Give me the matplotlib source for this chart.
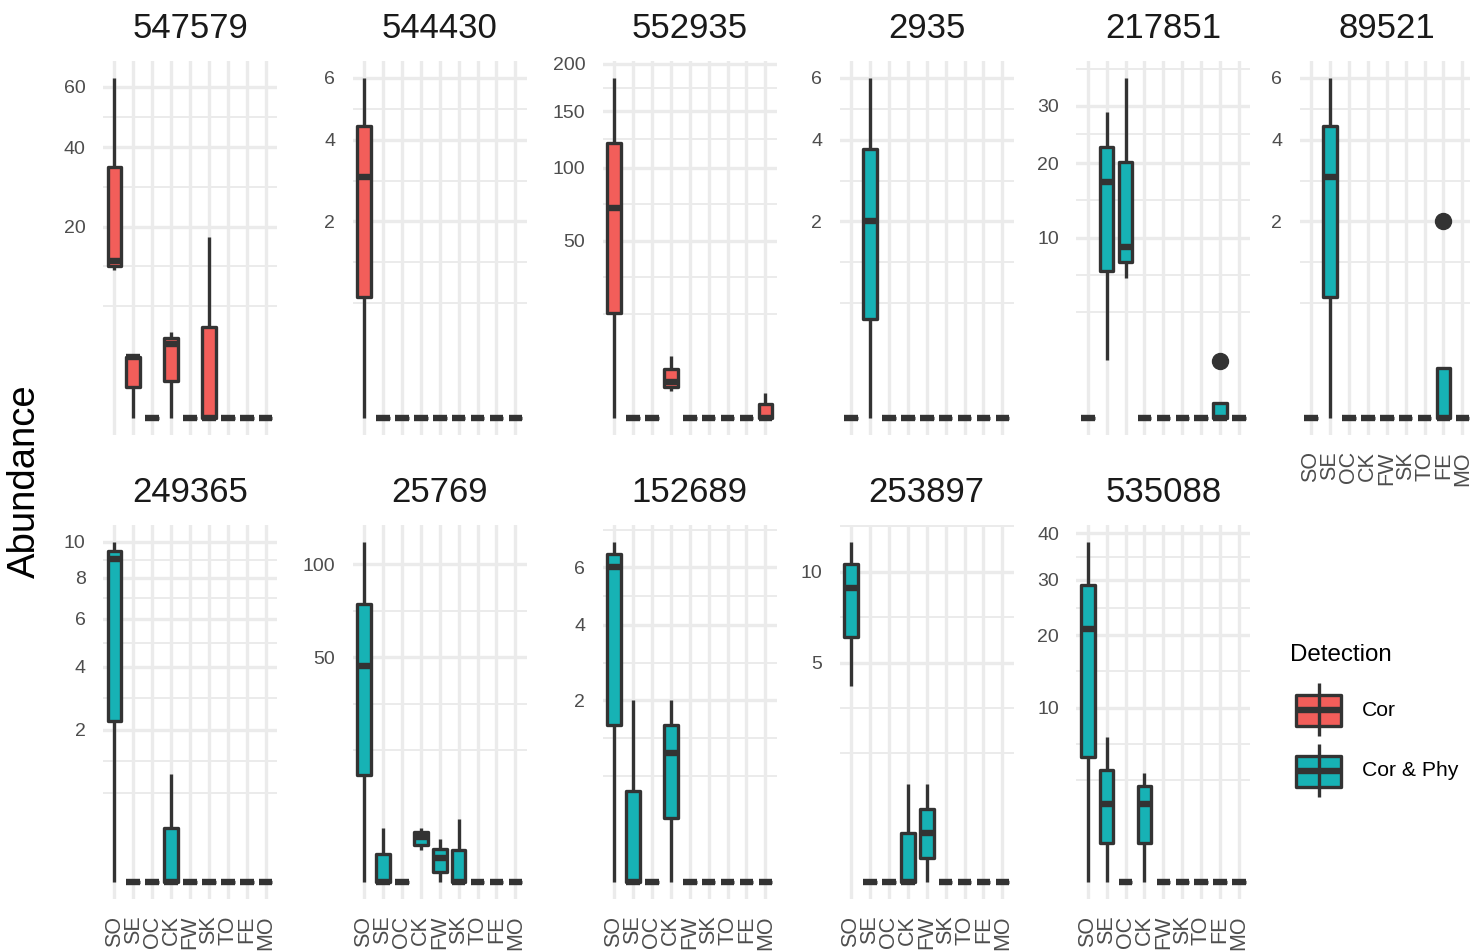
import numpy as np
import matplotlib
matplotlib.use("Agg")
import matplotlib.pyplot as plt
from matplotlib.patches import Rectangle
from matplotlib.ticker import FixedLocator, NullFormatter

plt.rcParams['font.family'] = ['Liberation Sans', 'DejaVu Sans']

### data: box stats per site as (lower whisker, Q1, median, Q3, upper whisker)
sites = ['SO', 'SE', 'OC', 'CK', 'FW', 'SK', 'TO', 'FE', 'MO']
Z = (0, 0, 0, 0, 0)

otu_547579 = [(11.9, 12.6, 13.4, 34.4, 63.4), (0, 0.5, 2, 2, 2), Z, (0, 0.75, 3, 3.5, 4), Z,
              (0, 0, 0, 4.5, 17.8), Z, Z, Z]
otu_544430 = [(0, 0.75, 3, 4.4, 6), Z, Z, Z, Z, Z, Z, Z, Z]
otu_552935 = [(0, 17.4, 70, 121, 185), Z, Z, (1.1, 1.5, 2, 3.75, 6), Z, Z, Z, Z,
              (0, 0, 0, 0.3, 0.95)]
otu_2935 = [Z, (0, 0.5, 2, 3.75, 6), Z, Z, Z, Z, Z, Z, Z]
otu_217851 = [Z, (1.03, 6.6, 17.1, 22.6, 28.8), (6.05, 7.5, 9, 20.2, 35.7), Z, Z, Z, Z,
              (0, 0, 0, 0.065, 0.065), Z]
otu_89521 = [Z, (0, 0.75, 3, 4.4, 6), Z, Z, Z, Z, Z, (0, 0, 0, 0.125, 0.125), Z]
otu_249365 = [(0, 2.25, 9, 9.5, 10), Z, Z, (0, 0, 0, 0.25, 1), Z, Z, Z, Z, Z]
otu_25769 = [(0, 11.3, 46, 76.6, 114.4), (0, 0, 0, 0.75, 2.85), Z, (1.0, 1.35, 2.0, 2.5, 2.85),
             (0, 0.1, 0.55, 1.1, 1.87), (0, 0, 0, 1.0, 3.87), Z, Z, Z]
otu_152689 = [(0, 1.5, 6, 6.5, 7), (0, 0, 0, 0.5, 2), Z, (0, 0.25, 1, 1.5, 2), Z, Z, Z, Z, Z]
otu_253897 = [(4, 6.25, 9, 10.5, 12), Z, Z, (0, 0, 0, 0.25, 1), (0, 0.06, 0.25, 0.56, 1),
              Z, Z, Z, Z]
otu_535088 = [(0, 5.15, 21, 29, 38), (0, 0.5, 2, 4.1, 6.9), Z, (0, 0.5, 2, 3, 3.9), Z, Z, Z, Z, Z]

outliers = {'217851': {'FE': [1.0]}, '89521': {'FE': [2.0]}}

otus = ['547579', '544430', '552935', '2935', '217851', '89521',
        '249365', '25769', '152689', '253897', '535088']
box_data = [otu_547579, otu_544430, otu_552935, otu_2935, otu_217851, otu_89521,
            otu_249365, otu_25769, otu_152689, otu_253897, otu_535088]
detection = ['Cor', 'Cor', 'Cor', 'Cor & Phy', 'Cor & Phy', 'Cor & Phy',
             'Cor & Phy', 'Cor & Phy', 'Cor & Phy', 'Cor & Phy', 'Cor & Phy']
y_breaks = {'547579': [20, 40, 60], '544430': [2, 4, 6], '552935': [50, 100, 150, 200],
            '2935': [2, 4, 6], '217851': [10, 20, 30], '89521': [2, 4, 6],
            '249365': [2, 4, 6, 8, 10], '25769': [50, 100], '152689': [2, 4, 6],
            '253897': [5, 10], '535088': [10, 20, 30, 40]}

colors = {'Cor': '#F25E5A', 'Cor & Phy': '#17B2B5'}
EDGE = '#333333'
GRID = '#EBEBEB'


### signed sqrt so the lower padding below zero still maps
def fwd(y):
    y = np.asarray(y, dtype=float)
    return np.sign(y) * np.sqrt(np.abs(y))


def inv(y):
    y = np.asarray(y, dtype=float)
    return np.sign(y) * y ** 2


def minor_breaks(major, lo_s, hi_s):
    b = list(np.sqrt(major))
    bd = b[1] - b[0]
    if lo_s < b[0]:
        b.insert(0, b[0] - bd)
    if hi_s > b[-1]:
        b.append(b[-1] + bd)
    out = []
    for a, c in zip(b[:-1], b[1:]):
        out += [a, (a + c) / 2]
    out.append(b[-1])
    sq = np.sqrt(major)
    return [float(inv(s)) for s in out
            if lo_s <= s <= hi_s and not np.any(np.isclose(s, sq))]


W, H = 1470, 951
fig = plt.figure(figsize=(W / 100, H / 100), dpi=100)
fig.patch.set_facecolor('white')

lefts = [103, 352.7, 602.7, 839.7, 1076.4, 1299.7]
tops = [60.5, 525]
pw, ph = 174, 374

for i, otu in enumerate(otus):
    row, col = divmod(i, 6)
    x0, y0 = lefts[col], tops[row]
    ax = fig.add_axes([x0 / W, 1 - (y0 + ph) / H, pw / W, ph / H])

    rows = box_data[i]
    fl = outliers.get(otu, {})
    stats = []
    for s, (lo, q1, med, q3, hi) in zip(sites, rows):
        stats.append(dict(whislo=lo, q1=q1, med=med, q3=q3, whishi=hi,
                          fliers=fl.get(s, [])))
    top = max(max(r[4] for r in rows), max([v for f in fl.values() for v in f] + [0]))
    M = np.sqrt(top)
    lo_s, hi_s = -0.05 * M, 1.05 * M

    ax.set_yscale('function', functions=(fwd, inv))
    ax.set_axisbelow(True)
    ax.bxp(stats, positions=range(1, 10), widths=0.72, patch_artist=True,
           showcaps=False, manage_ticks=False,
           boxprops=dict(facecolor=colors[detection[i]], edgecolor=EDGE,
                         linewidth=2.4, joinstyle='round'),
           whiskerprops=dict(color=EDGE, linewidth=2.4, solid_capstyle='butt'),
           medianprops=dict(color=EDGE, linewidth=4.6, solid_capstyle='butt'),
           flierprops=dict(marker='o', markerfacecolor=EDGE, markeredgecolor=EDGE,
                           markersize=11.5))
    ax.set_xlim(0.4, 9.6)
    ax.set_ylim(float(inv(lo_s)), float(inv(hi_s)))

    major = y_breaks[otu]
    ax.yaxis.set_major_locator(FixedLocator(major))
    ax.yaxis.set_minor_locator(FixedLocator(minor_breaks(major, lo_s, hi_s)))
    ax.yaxis.set_minor_formatter(NullFormatter())
    ax.set_yticklabels([str(v) for v in major])
    ax.set_xticks(range(1, 10))
    show_x = row == 1 or col == 5
    if show_x:
        ax.set_xticklabels(sites, rotation=90)
    else:
        ax.set_xticklabels([])

    ax.grid(axis='y', which='major', color=GRID, linewidth=2.4)
    ax.grid(axis='y', which='minor', color=GRID, linewidth=1.4)
    ax.grid(axis='x', which='major', color=GRID, linewidth=2.4)
    ax.tick_params(which='both', length=0, labelsize=14, labelcolor='#4D4D4D', pad=12.6)
    ax.tick_params(axis='x', labelbottom=show_x, labelsize=15.5, pad=12)
    for sp in ax.spines.values():
        sp.set_visible(False)

    fig.text((x0 + pw / 2) / W, 1 - (y0 - 23) / H, otu, ha='center', va='baseline',
             fontsize=25, color='#1A1A1A')

fig.text(25 / W, 1 - 481 / H, 'Abundance', rotation=90, ha='center', va='center',
         fontsize=27.5, color='black')

### legend drawn in pixel coordinates
lg = fig.add_axes([0, 0, 1, 1])
lg.set_xlim(0, W)
lg.set_ylim(H, 0)
lg.axis('off')
lg.patch.set_visible(False)
lg.text(1290, 655, 'Detection', ha='left', va='center', fontsize=17.4, color='black')
for lab, yc in [('Cor', 710), ('Cor & Phy', 771)]:
    lg.plot([1319, 1319], [yc - 27, yc + 26], color=EDGE, lw=2.4, solid_capstyle='butt')
    lg.add_patch(Rectangle((1296.5, yc - 15.5), 45, 31, facecolor=colors[lab],
                           edgecolor=EDGE, lw=2.4, joinstyle='round'))
    lg.plot([1296.5, 1341.5], [yc, yc], color=EDGE, lw=4.6, solid_capstyle='butt')
    lg.text(1362, yc, lab, ha='left', va='center', fontsize=15.2, color='black')

fig.savefig('out.png', dpi=100, facecolor='white')
